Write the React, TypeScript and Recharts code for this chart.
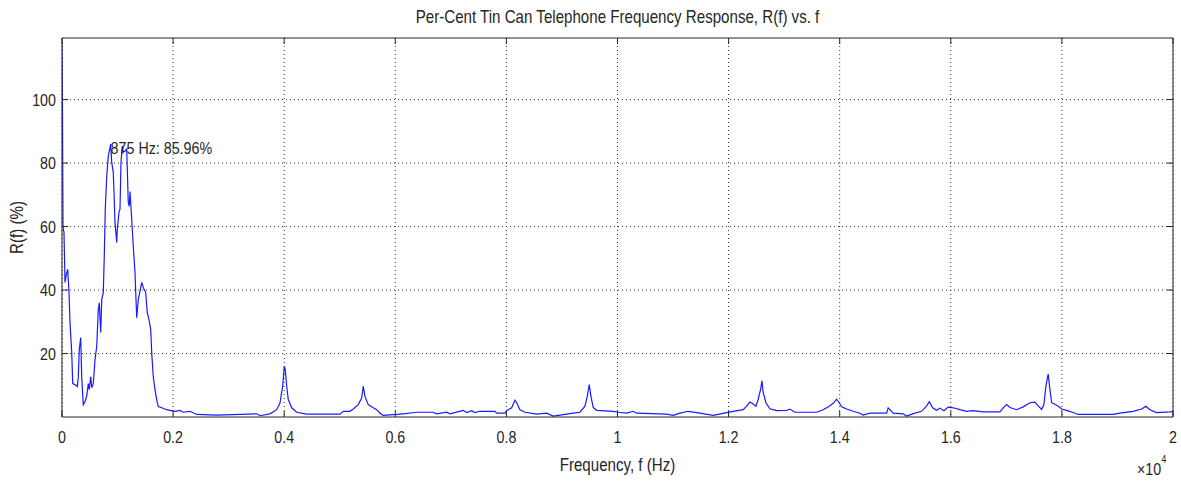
import React from 'react';
import { LineChart, Line, XAxis, YAxis, CartesianGrid, ReferenceDot } from 'recharts';

const FONT = "'Liberation Sans', Arial, Helvetica, sans-serif";
const INK = '#262626';
const SQUASH = 0.84;
const FS = 17;
const FS_LABEL = 18;

const chartTitle = 'Per-Cent Tin Can Telephone Frequency Response, R(f) vs. f';
const xAxisTitle = 'Frequency, f (Hz)';
const yAxisTitle = 'R(f)  (%)';
const xMultiplier = '×10';
const xMultiplierExp = '4';

const xTicks = [0, 2000, 4000, 6000, 8000, 10000, 12000, 14000, 16000, 18000, 20000];
const yTicks = [20, 40, 60, 80, 100];

const peakFreq = 875;
const peakValue = 85.96;

const freqHz = [
  0, 9, 18, 36, 54, 85, 103, 126, 144, 175, 193, 234, 275, 293, 311, 337, 355, 383, 414, 445,
  473, 491, 517, 535, 563, 594, 625, 653, 671, 697, 715, 743, 761, 779, 805, 833, 875, 895, 923, 936,
  954, 985, 995, 1026, 1044, 1062, 1085, 1103, 1134, 1165, 1193, 1211, 1224, 1255, 1283, 1314, 1332, 1345, 1373, 1404,
  1435, 1463, 1507, 1535, 1566, 1597, 1615, 1643, 1674, 1705, 1733, 1795, 1885, 1944, 2034, 2124, 2178, 2304, 2425, 2785,
  3505, 3564, 3744, 3865, 3924, 3973, 4001, 4019, 4045, 4073, 4135, 4225, 4405, 5004, 5063, 5184, 5243, 5333, 5395, 5423,
  5454, 5513, 5603, 5665, 5724, 5783, 6025, 6143, 6385, 6683, 6745, 6925, 6984, 7223, 7285, 7375, 7434, 7524, 7794, 7825,
  7974, 8005, 8095, 8154, 8185, 8244, 8334, 8545, 8725, 8843, 9203, 9324, 9414, 9455, 9491, 9522, 9563, 9625, 9923, 10013,
  10165, 10283, 10345, 10885, 11003, 11124, 11273, 11425, 11723, 11965, 12083, 12263, 12325, 12384, 12443, 12492, 12533, 12577, 12600, 12623,
  12672, 12744, 12865, 13045, 13104, 13194, 13585, 13703, 13811, 13883, 13945, 13991, 14035, 14125, 14243, 14364, 14423, 14544, 14845, 14873,
  14917, 14963, 15143, 15205, 15354, 15475, 15565, 15613, 15673, 15745, 15804, 15876, 15953, 16043, 16164, 16285, 16403, 16583, 16884, 16943,
  17005, 17064, 17185, 17303, 17424, 17514, 17573, 17635, 17676, 17712, 17753, 17784, 17815, 17874, 17933, 17995, 18085, 18203, 18293, 18923,
  19044, 19283, 19435, 19512, 19584, 19705, 19944, 20000,
];

const responsePct = [
  117.6, 97, 60, 58, 42.4, 45.5, 46.5, 39.2, 29.8, 20.3, 10.5, 10.2, 9.6, 12.4, 21.2, 25, 12.7, 3.9, 4.9, 6.6,
  10.5, 8.6, 12.7, 9.2, 10.5, 18, 22.2, 33.9, 36, 26.6, 37, 39.2, 50.6, 65.5, 75.8, 82.1, 85.96, 80.3, 77, 70.8,
  61.3, 55, 59, 64.5, 65.5, 80.3, 85.4, 83.4, 83.8, 84.4, 67.6, 66.4, 71, 62.2, 53.8, 45.5, 37, 31.3, 37, 39.6,
  42.4, 40.8, 39.2, 32.9, 30.7, 27.6, 20.2, 12.7, 8.6, 5.4, 3.3, 2.9, 2.3, 2.1, 1.8, 2.1, 1.5, 1.8, 0.8, 0.6,
  1.0, 0.4, 1, 2.3, 4.4, 9.7, 16, 14.9, 9.7, 5.5, 2.9, 1.5, 0.9, 0.9, 1.8, 1.8, 2.5, 3.9, 6, 9.7,
  6.5, 3.9, 2.9, 2.3, 1.2, 0.5, 0.8, 1, 1.5, 1.5, 1, 1.5, 1, 2.1, 1.4, 2, 1.4, 1.8, 1.8, 1.2,
  1.2, 2, 2.9, 5.3, 4.5, 2.3, 1.5, 0.9, 1.2, 0.3, 1.2, 1.5, 3.4, 6.5, 10.2, 6.5, 3, 2.1, 1.8, 1.5,
  1.2, 1.8, 1.2, 0.9, 0.5, 1.2, 1.8, 1.4, 0.5, 1.4, 1.8, 2.3, 3.4, 4.7, 4.1, 3.4, 5.6, 8.8, 11.4, 7.7,
  4.5, 2.6, 2, 2.1, 2.5, 1.5, 1.5, 2.3, 3.4, 4.3, 5.6, 4.5, 3.2, 2.5, 1.8, 1.2, 0.6, 1.2, 1.2, 2.9,
  2.1, 1.2, 1.0, 0.3, 1.2, 1.8, 3.5, 4.8, 2.9, 2.1, 2.8, 2, 3.1, 2.9, 2.3, 1.8, 2, 1.6, 1.6, 2.9,
  3.9, 3.0, 2.3, 3.2, 4.5, 4.7, 3.5, 2.4, 3.9, 9.7, 13.5, 8.8, 4.5, 4, 3.4, 2.5, 2.1, 1.4, 0.8, 0.8,
  1.2, 1.8, 2.5, 3.4, 2.3, 1.4, 1.6, 1.7,
];

const data = freqHz.map((f, i) => ({ f, r: responsePct[i] }));

const TICK_LEN = 6;

const fmtX = (v: number) => String(+(v / 10000).toFixed(1));

// Narrow (condensed) text, like the original's Helvetica-Narrow look
const NText = ({ x, y, anchor = 'start', size = FS, rotate = 0, children }: any) => (
  <text
    transform={`translate(${x} ${y}) rotate(${rotate}) scale(${SQUASH} 1)`}
    x={0}
    y={0}
    textAnchor={anchor}
    fontSize={size}
    fontFamily={FONT}
    fill={INK}
  >
    {children}
  </text>
);

const BottomTick = (p: any) => (
  <g>
    <line x1={p.x} x2={p.x} y1={p.y} y2={p.y - TICK_LEN} stroke={INK} strokeWidth={1} />
    <NText x={p.x} y={p.y + 26} anchor="middle">{fmtX(p.payload.value)}</NText>
  </g>
);

const TopTick = (p: any) => (
  <line x1={p.x} x2={p.x} y1={p.y} y2={p.y + TICK_LEN} stroke={INK} strokeWidth={1} />
);

const LeftTick = (p: any) => (
  <g>
    <line x1={p.x} x2={p.x + TICK_LEN} y1={p.y} y2={p.y} stroke={INK} strokeWidth={1} />
    <NText x={p.x - 6} y={p.y + 6} anchor="end">{p.payload.value}</NText>
  </g>
);

const RightTick = (p: any) => (
  <line x1={p.x} x2={p.x - TICK_LEN} y1={p.y} y2={p.y} stroke={INK} strokeWidth={1} />
);

const XTitle = (p: any) => {
  const vb = p.viewBox || {};
  const cx = vb.x + vb.width / 2;
  const top = vb.y;
  const right = vb.x + vb.width;
  return (
    <g>
      <NText x={cx} y={top + 54} anchor="middle" size={FS_LABEL}>{xAxisTitle}</NText>
      <text
        transform={`translate(${right - 36} ${top + 58}) scale(${SQUASH} 1)`}
        fontSize={FS}
        fontFamily={FONT}
        fill={INK}
      >
        {xMultiplier}
        <tspan dy={-12} fontSize={11}>{xMultiplierExp}</tspan>
      </text>
    </g>
  );
};

const ChartTitle = (p: any) => {
  const vb = p.viewBox || {};
  return <NText x={vb.x + vb.width / 2} y={23} anchor="middle" size={FS_LABEL}>{chartTitle}</NText>;
};

const YTitle = (p: any) => {
  const vb = p.viewBox || {};
  const cy = vb.y + vb.height / 2;
  return <NText x={23} y={cy} anchor="middle" rotate={-90} size={FS_LABEL}>{yAxisTitle}</NText>;
};

const PeakLabel = (p: any) => {
  const vb = p.viewBox || {};
  return <NText x={vb.x} y={vb.y + 10}>{`${peakFreq} Hz: ${peakValue}%`}</NText>;
};

export default function App() {
  return (
    <div style={{ position: 'absolute', left: 0, top: 0, width: 1181, height: 483, background: '#fff' }}>
      <LineChart width={1181} height={483} data={data} margin={{ top: 37, right: 7, bottom: 0, left: 0 }}>
        <CartesianGrid stroke="#333" strokeDasharray="1 3" verticalValues={xTicks} horizontalValues={yTicks} />
        <XAxis
          dataKey="f"
          type="number"
          domain={[0, 20000]}
          ticks={xTicks}
          interval={0}
          height={66}
          tickLine={false}
          tickSize={0}
          tickMargin={0}
          axisLine={{ stroke: INK }}
          tick={BottomTick}
          label={XTitle}
          allowDataOverflow
        />
        <XAxis
          xAxisId="top"
          dataKey="f"
          orientation="top"
          type="number"
          domain={[0, 20000]}
          ticks={xTicks}
          interval={0}
          height={1}
          tickLine={false}
          tickSize={0}
          tickMargin={0}
          axisLine={{ stroke: INK }}
          tick={TopTick}
          label={ChartTitle}
          allowDataOverflow
        />
        <YAxis
          type="number"
          domain={[0, 119.4]}
          ticks={yTicks}
          interval={0}
          width={62}
          tickLine={false}
          tickSize={0}
          tickMargin={0}
          axisLine={{ stroke: INK }}
          tick={LeftTick}
          label={YTitle}
          allowDataOverflow
        />
        <YAxis
          yAxisId="right"
          orientation="right"
          type="number"
          domain={[0, 119.4]}
          ticks={yTicks}
          interval={0}
          width={1}
          tickLine={false}
          tickSize={0}
          tickMargin={0}
          axisLine={{ stroke: INK }}
          tick={RightTick}
          allowDataOverflow
        />
        <Line
          type="linear"
          dataKey="r"
          stroke="#1a1aff"
          strokeWidth={1.2}
          dot={false}
          activeDot={false}
          isAnimationActive={false}
        />
        <ReferenceDot x={peakFreq} y={peakValue} r={0} fill="none" stroke="none" label={PeakLabel} />
      </LineChart>
    </div>
  );
}
